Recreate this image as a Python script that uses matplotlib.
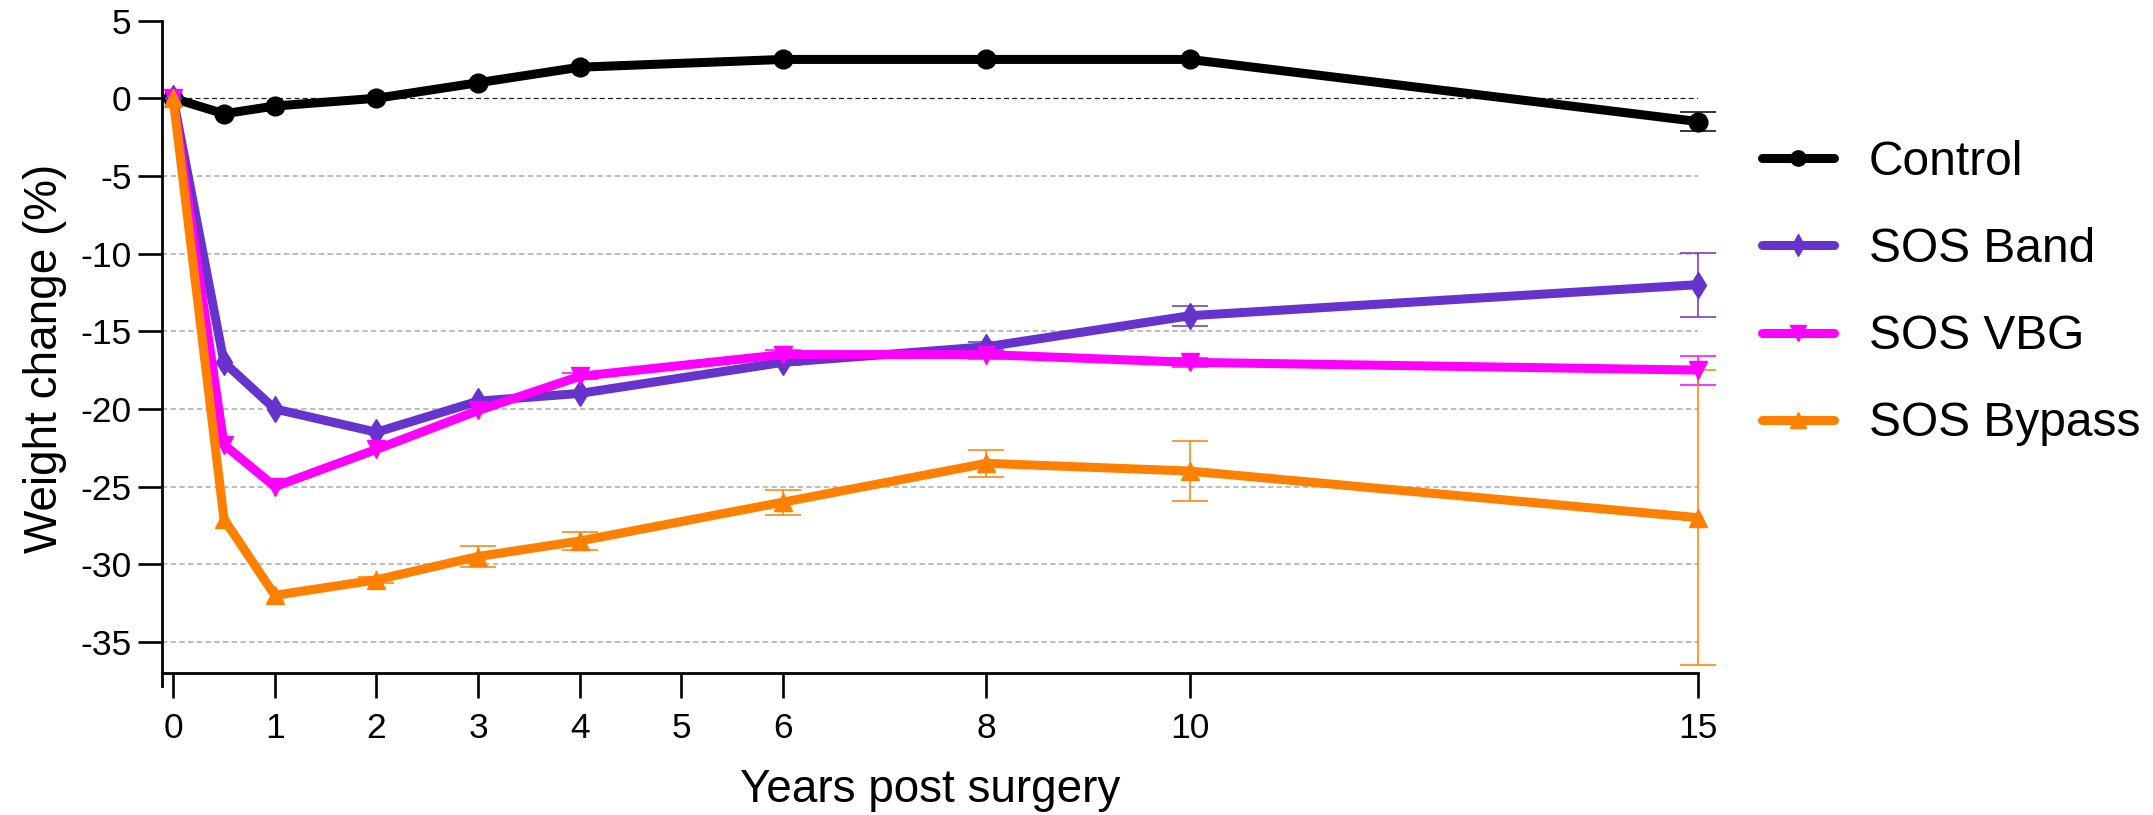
import matplotlib
matplotlib.use("Agg")
import matplotlib.pyplot as plt
from matplotlib.lines import Line2D

plt.rcParams["font.family"] = ["Liberation Sans", "DejaVu Sans"]

years = [0, 0.5, 1, 2, 3, 4, 6, 8, 10, 15]
xticks = [0, 1, 2, 3, 4, 5, 6, 8, 10, 15]
yticks = [5, 0, -5, -10, -15, -20, -25, -30, -35]

control = [0, -1.0, -0.5, 0, 1.0, 2.0, 2.5, 2.5, 2.5, -1.5]
control_err = [0, 0, 0, 0, 0, 0, 0, 0, 0, 0.6]
band = [0, -17.0, -20.0, -21.5, -19.5, -19.0, -17.0, -16.0, -14.0, -12.0]
band_err = [0, 0, 0, 0, 0, 0, 0.2, 0.3, 0.65, 2.05]
vbg = [0, -22.3, -25.0, -22.6, -20.1, -17.9, -16.5, -16.5, -17.0, -17.5]
vbg_err = [0, 0, 0, 0, 0, 0.2, 0.3, 0.3, 0.3, 0.93]
bypass = [0, -27.1, -32.0, -31.0, -29.5, -28.5, -26.0, -23.5, -24.0, -27.0]
bypass_err = [0, 0, 0, 0.2, 0.65, 0.6, 0.8, 0.85, 1.95, 9.5]

# (label, values, sem, color, marker, marker size)
series = [
    ("Control", control, control_err, "black", "o", 13.5),
    ("SOS Band", band, band_err, "#6633CC", "d", 13),
    ("SOS VBG", vbg, vbg_err, "#FF00FF", "v", 13),
    ("SOS Bypass", bypass, bypass_err, "#FF8000", "^", 13),
]

W, H = 2153, 815
fig = plt.figure(figsize=(W / 100, H / 100), dpi=100)
ax = fig.add_axes([162 / W, 1 - 673 / H, (1698 - 162) / W, (673 - 20.6) / H])

# dashed horizontal guides, the zero line darker
for y in yticks:
    if y == 5:
        continue
    if y == 0:
        ax.axhline(y, color="#222222", lw=0.9, ls=(0, (4.0, 2.6)), zorder=0)
    else:
        ax.axhline(y, color="#ABABAB", lw=1.1, ls=(0, (3.5, 2.2)), zorder=0)

handles = []
for name, vals, err, color, mk, ms in series:
    # SEM bars only where there is a spread; they sit under the mean line
    pts = [(x, v, e) for x, v, e in zip(years, vals, err) if e > 0]
    ax.errorbar([p[0] for p in pts], [p[1] for p in pts], yerr=[p[2] for p in pts],
                fmt="none", ecolor=color, elinewidth=1.1, capsize=13, capthick=1.1,
                clip_on=False, zorder=1.5)
    ax.plot(years, vals, color=color, lw=6.5, marker=mk, ms=ms, clip_on=False,
            solid_capstyle="round", solid_joinstyle="round", zorder=2)
    handles.append(Line2D([], [], color=color, lw=6.5, marker=mk, ms=11,
                          solid_capstyle="round", label=name))

ax.set_xlim(-0.11, 15)
ax.set_ylim(-37, 5)
ax.set_xticks(xticks)
ax.set_yticks(yticks)
ax.set_yticklabels([str(t) for t in yticks])
ax.tick_params(axis="both", width=1.9, labelsize=25.5, direction="out")
ax.tick_params(axis="x", length=18, pad=10)
ax.tick_params(axis="y", length=17, pad=5)
for side in ("top", "right"):
    ax.spines[side].set_visible(False)
for side in ("left", "bottom"):
    ax.spines[side].set_linewidth(2.0)
ax.spines["left"].set_bounds(-37.85, 5)

ax.set_xlabel("Years post surgery", fontsize=33)
ax.xaxis.set_label_coords(0.5, -0.1456)
ax.set_ylabel("Weight change (%)", fontsize=33)
ax.yaxis.set_label_coords(-0.0618, 0.482)

ax.legend(handles=handles, loc="upper left",
          bbox_to_anchor=(1762 / W, 1 - 140 / H), bbox_transform=fig.transFigure,
          frameon=False, fontsize=34.5, handlelength=1.5, handletextpad=0.73,
          labelspacing=0.88, borderpad=0, borderaxespad=0)

fig.savefig("out.png", dpi=100)
